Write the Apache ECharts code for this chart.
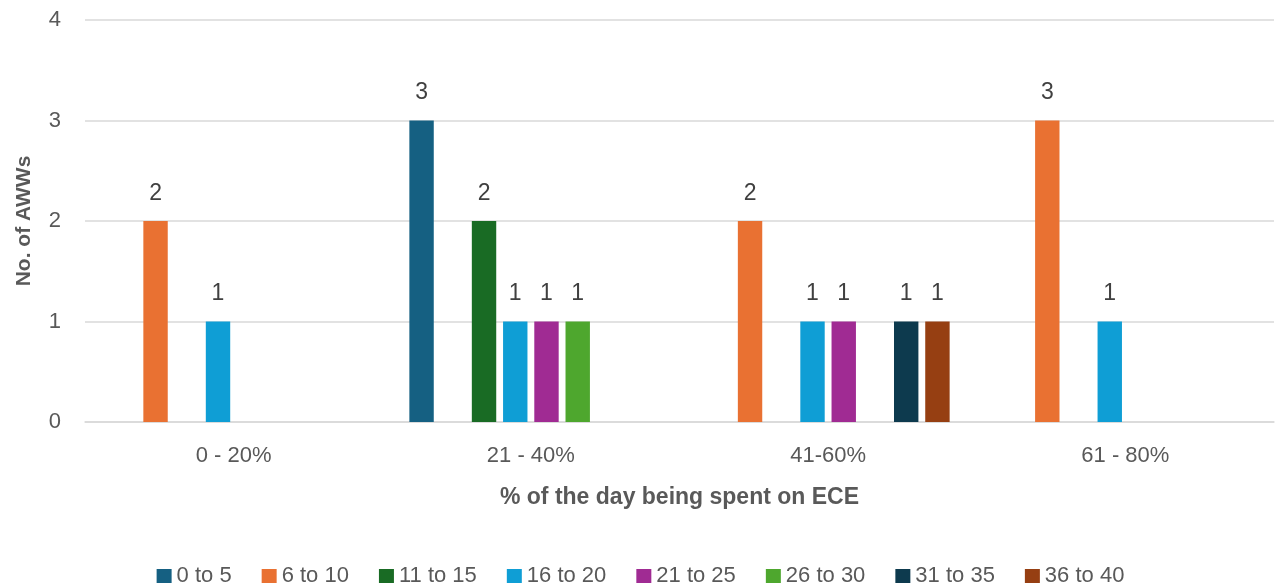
<!DOCTYPE html>
<html><head><meta charset="utf-8">
<script src="https://cdn.jsdelivr.net/npm/echarts@6/dist/echarts.min.js"></script>
<style>html,body{margin:0;padding:0;background:#fff}#c{width:1281px;height:588px}</style>
</head><body><div id="c"></div>
<script>
const categories = ['0 - 20%', '21 - 40%', '41-60%', '61 - 80%'];
const seriesNames = ['0 to 5', '6 to 10', '11 to 15', '16 to 20', '21 to 25', '26 to 30', '31 to 35', '36 to 40'];
const s0to5   = [null, 3, null, null];
const s6to10  = [2, null, 2, 3];
const s11to15 = [null, 2, null, null];
const s16to20 = [1, 1, 1, 1];
const s21to25 = [null, 1, 1, null];
const s26to30 = [null, 1, null, null];
const s31to35 = [null, null, 1, null];
const s36to40 = [null, null, 1, null];
const yTicks = [0, 1, 2, 3, 4];
const colors = ['#156082', '#E97132', '#196B24', '#0F9ED5', '#A02B93', '#4EA72E', '#0D3A4E', '#963F12'];
const allData = [s0to5, s6to10, s11to15, s16to20, s21to25, s26to30, s31to35, s36to40];
const FONT = 'Liberation Sans';
const chart = echarts.init(document.getElementById('c'));
chart.setOption({
  animation: false,
  textStyle: {fontFamily: FONT},
  grid: {left: 85, right: 7, top: 20, bottom: 166},
  legend: {
    top: 560, left: 'center', itemWidth: 15, itemHeight: 14, itemGap: 30,
    icon: 'rect',
    textStyle: {color: '#595959', fontSize: 22, fontFamily: FONT},
    data: seriesNames
  },
  xAxis: {
    type: 'category', data: categories,
    name: '% of the day being spent on ECE', nameLocation: 'middle', nameGap: 64,
    nameTextStyle: {color: '#595959', fontSize: 23, fontWeight: 'bold', fontFamily: FONT},
    axisLine: {lineStyle: {color: '#d9d9d9', width: 1.5}},
    axisTick: {show: false},
    axisLabel: {color: '#595959', fontSize: 22, margin: 23, fontFamily: FONT}
  },
  yAxis: {
    type: 'value', min: yTicks[0], max: yTicks[yTicks.length - 1], interval: 1,
    name: 'No. of AWWs', nameLocation: 'middle', nameGap: 50,
    nameTextStyle: {color: '#595959', fontSize: 21, fontWeight: 'bold', fontFamily: FONT},
    axisLine: {show: false}, axisTick: {show: false},
    axisLabel: {color: '#595959', fontSize: 22, margin: 24, fontFamily: FONT},
    splitLine: {lineStyle: {color: '#d9d9d9', width: 1.5}}
  },
  series: seriesNames.map((n, i) => ({
    name: n, type: 'bar', data: allData[i],
    barWidth: 24.4, barGap: '28%',
    itemStyle: {color: colors[i]},
    label: {show: true, position: 'top', distance: 16, color: '#404040', fontSize: 23, fontFamily: FONT}
  }))
});
</script></body></html>
